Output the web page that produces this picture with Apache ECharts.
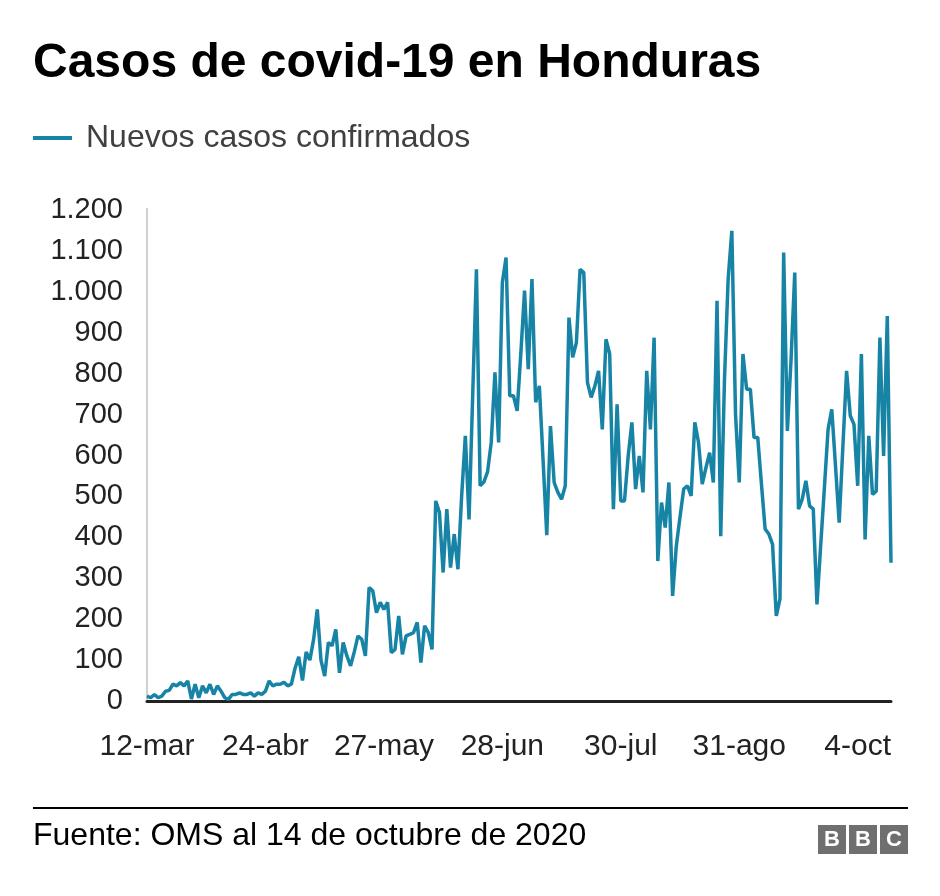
<!DOCTYPE html>
<html>
<head>
<meta charset="utf-8">
<script src="https://cdn.jsdelivr.net/npm/echarts@6/dist/echarts.min.js"></script>
<style>
  html, body { margin: 0; padding: 0; background: #ffffff; }
  #chart { width: 940px; height: 896px; }
</style>
</head>
<body>
<div id="chart"></div>
<script>
// ---- Data ----
const titleText = 'Casos de covid-19 en Honduras';
const seriesName = 'Nuevos casos confirmados';
const sourceText = 'Fuente: OMS al 14 de octubre de 2020';

// Reporting dates (category axis); early period has gaps in reporting
const marDays = [12,13,14,15,16,17,18,19,20,21,22,23,24,25,26,27,28,29,30,31];
const abrDays = [2,4,6,8,10,12,14,16,18,20,22,23,24,25,26,27,28,29,30];
const mayDays = [2,3,4,5,6,7,8,9,10,11,12,13,14,15,16,17,18,19,20,21,22,23,24,25,26,27,28,29,30,31];
const junDays = [1,2,3,4,5,6,7,8,9,10,11,12,13,14,15,16,17,18,19,20,21,22,23,24,25,26,27,28,29,30];
const julDays = [1,2,3,4,5,6,7,8,9,10,11,12,13,14,15,16,17,18,19,20,21,22,23,24,25,26,27,28,29,30,31];
const agoDays = [1,2,3,4,5,6,7,8,9,10,11,12,13,14,15,16,17,18,19,20,21,22,23,24,25,26,27,28,29,30,31];
const sepDays = [1,2,3,4,5,7,8,9,10,11,12,13,14,15,16,17,18,19,21,22,23,24,25,26,27,28,29,30];
const octDays = [1,2,3,4,5,6,7,8,9,10,11,12,13];

// New confirmed cases per reported day
const newCases = [
  12, 8, 16, 8, 12, 24, 26, 41, 37, 45,
  37, 49, 5, 41, 8, 37, 20, 41, 16, 37,
  24, 8, 4, 16, 16, 20, 16, 16, 20, 12,
  20, 16, 24, 49, 37, 41, 41, 46, 37, 41,
  80, 108, 50, 120, 100, 150, 224, 100, 61, 143,
  135, 175, 69, 143, 110, 86, 120, 159, 151, 110,
  277, 269, 216, 241, 224, 241, 118, 126, 208, 114,
  159, 163, 167, 192, 94, 184, 167, 126, 489, 461,
  314, 469, 326, 408, 322, 500, 648, 444, 750, 1055,
  526, 535, 560, 632, 803, 632, 1023, 1084, 746, 746,
  709, 850, 1003, 811, 1031, 730, 770, 590, 405, 672,
  534, 510, 493, 526, 937, 840, 876, 1055, 1047, 778,
  742, 770, 807, 664, 884, 848, 469, 725, 489, 489,
  599, 681, 518, 599, 510, 807, 664, 888, 342, 485,
  424, 534, 257, 379, 450, 518, 526, 501, 681, 632,
  530, 570, 607, 534, 978, 403, 782, 1031, 1149, 700,
  534, 848, 762, 762, 644, 644, 530, 420, 408, 383,
  208, 249, 1096, 660, 835, 1047, 469, 493, 538, 477,
  469, 236, 380, 520, 664, 713, 575, 436, 622, 807,
  697, 676, 526, 848, 395, 648, 505, 513, 888, 599,
  941, 338
];

const yTicks = [0, 100, 200, 300, 400, 500, 600, 700, 800, 900, 1000, 1100, 1200];

// ---- Build categories ----
const categories = [].concat(
  marDays.map(d => d + '-mar'),
  abrDays.map(d => d + '-abr'),
  mayDays.map(d => d + '-may'),
  junDays.map(d => d + '-jun'),
  julDays.map(d => d + '-jul'),
  agoDays.map(d => d + '-ago'),
  sepDays.map(d => d + '-sep'),
  octDays.map(d => d + '-oct')
);

const FONT = '"Liberation Sans", Arial, Helvetica, sans-serif';
const LINE_COLOR = '#1784A6';

function fmt(v) {
  if (v >= 1000) {
    return Math.floor(v / 1000) + '.' + String(v % 1000).padStart(3, '0');
  }
  return String(v);
}

const chart = echarts.init(document.getElementById('chart'), null, { renderer: 'canvas' });

const option = {
  animation: false,
  backgroundColor: '#ffffff',
  textStyle: { fontFamily: FONT },
  title: {
    text: titleText,
    left: 28,
    top: 35,
    textStyle: { fontFamily: FONT, fontSize: 48, fontWeight: 'bold', color: '#000000' }
  },
  legend: {
    left: 33,
    top: 122,
    padding: 0,
    icon: 'rect',
    itemWidth: 39,
    itemHeight: 4,
    itemGap: 0,
    textStyle: { fontFamily: FONT, fontSize: 32, color: '#404040', padding: [0, 0, 0, 9] },
    data: [seriesName]
  },
  grid: {
    left: 147,
    right: 49,
    top: 210,
    bottom: 195,
    containLabel: false
  },
  xAxis: {
    type: 'category',
    data: categories,
    boundaryGap: false,
    axisLine: { show: true, lineStyle: { color: '#222222', width: 3 } },
    axisTick: { show: false },
    axisLabel: {
      interval: 31,
      margin: 31,
      fontFamily: FONT,
      fontSize: 30,
      color: '#222222'
    },
    splitLine: { show: false }
  },
  yAxis: {
    type: 'value',
    min: yTicks[0],
    max: yTicks[yTicks.length - 1],
    interval: 100,
    axisLine: { show: false },
    axisTick: { show: false },
    axisLabel: {
      margin: 24,
      fontFamily: FONT,
      fontSize: 29,
      color: '#222222',
      formatter: fmt
    },
    splitLine: { show: false }
  },
  series: [{
    name: seriesName,
    type: 'line',
    data: newCases,
    showSymbol: false,
    symbol: 'none',
    lineStyle: { color: LINE_COLOR, width: 3.5 },
    itemStyle: { color: LINE_COLOR },
    z: 3
  }],
  graphic: [
    // light vertical y-axis line
    { type: 'line', shape: { x1: 147, y1: 208, x2: 147, y2: 700 }, style: { stroke: '#d0d0d0', lineWidth: 2 }, z: 1 },
    // footer rule
    { type: 'line', shape: { x1: 33, y1: 808, x2: 908, y2: 808 }, style: { stroke: '#000000', lineWidth: 2 } },
    // source
    { type: 'text', left: 33, top: 820, style: { text: sourceText, font: '32px ' + FONT, fill: '#000000' } },
    // BBC logo
    { type: 'group', left: 818, top: 825, children: [
      { type: 'rect', shape: { x: 0, y: 0, width: 28, height: 29 }, style: { fill: '#6f6f6f' } },
      { type: 'rect', shape: { x: 31, y: 0, width: 28, height: 29 }, style: { fill: '#6f6f6f' } },
      { type: 'rect', shape: { x: 62, y: 0, width: 28, height: 29 }, style: { fill: '#6f6f6f' } },
      { type: 'text', x: 14, y: 15, style: { text: 'B', font: 'bold 22px ' + FONT, fill: '#ffffff', align: 'center', verticalAlign: 'middle' } },
      { type: 'text', x: 45, y: 15, style: { text: 'B', font: 'bold 22px ' + FONT, fill: '#ffffff', align: 'center', verticalAlign: 'middle' } },
      { type: 'text', x: 76, y: 15, style: { text: 'C', font: 'bold 22px ' + FONT, fill: '#ffffff', align: 'center', verticalAlign: 'middle' } }
    ]}
  ]
};

chart.setOption(option);
</script>
</body>
</html>
